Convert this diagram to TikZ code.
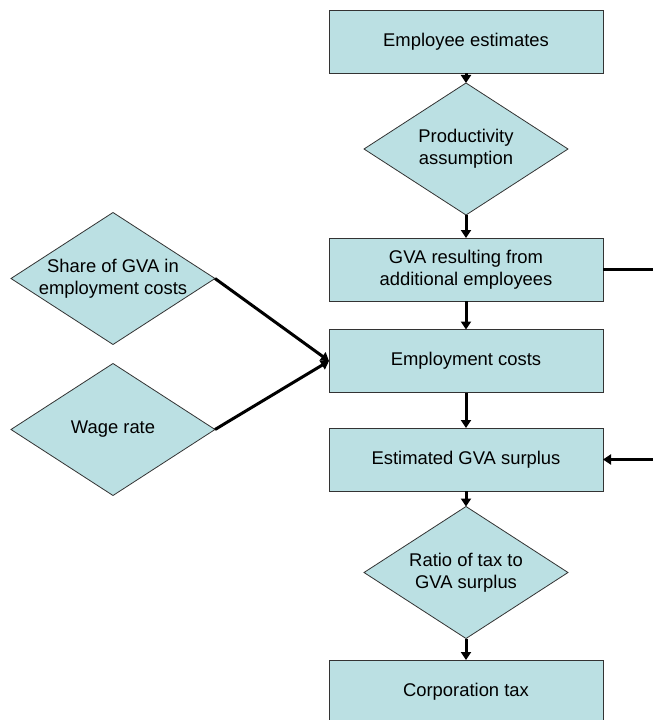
\documentclass[tikz,border=0pt]{standalone}
\usepackage{fontspec}
\setmainfont{Liberation Sans}
\usetikzlibrary{shapes.geometric,arrows.meta}
\definecolor{boxfill}{RGB}{187,224,227}

\begin{document}
\begin{tikzpicture}[x=1pt,y=-1pt,
    font=\fontsize{18.4}{21.7}\selectfont,
    stage/.style={draw=black!80,line width=0.8pt,fill=boxfill,minimum width=274pt,
      minimum height=63pt,inner sep=0pt,outer sep=0pt,align=center},
    factor/.style={diamond,draw=black!80,line width=0.8pt,fill=boxfill,minimum width=204pt,
      minimum height=132pt,inner sep=0pt,outer sep=0pt},
    flow/.style={line width=3pt,-{Triangle[length=8pt,width=10pt]}}]
      \useasboundingbox (0,0) rectangle (653,720);
      \node[stage] (emp) at (466,41.5) {Employee estimates};
      \node[factor,label={[align=center]center:{Productivity\\assumption}}] (prod) at (466,149) {};
      \node[stage] (gva) at (466,269.5) {GVA resulting from\\additional employees};
      \node[stage] (empcost) at (466,361) {Employment costs};
      \node[stage] (surplus) at (466,459.5) {Estimated GVA surplus};
      \node[factor,label={[align=center]center:{Ratio of tax to\\GVA surplus}}] (ratio) at (466,572.5) {};
      \node[stage] (corptax) at (466,691.5) {Corporation tax};
      \node[factor,label={[align=center]center:{Share of GVA in\\employment costs}}] (share) at (113,278.5) {};
      \node[factor,label={center:Wage rate}] (wage) at (113,429.5) {};
      \coordinate (gvaout) at (660,269.5);
      \coordinate (surplusin) at (660,459.5);
      \draw[flow] (emp) -- (prod);
      \draw[flow] (prod) -- (gva);
      \draw[flow] (gva) -- (empcost);
      \draw[flow] (empcost) -- (surplus);
      \draw[flow] (surplus) -- (ratio);
      \draw[flow] (ratio) -- (corptax);
      \draw[flow] (share.east) -- (empcost.west);
      \draw[flow] (wage.east) -- (empcost.west);
      \draw[line width=3pt] (gva.east) -- (gvaout);
      \draw[flow] (surplusin) -- (surplus.east);
    \end{tikzpicture}
\end{document}
